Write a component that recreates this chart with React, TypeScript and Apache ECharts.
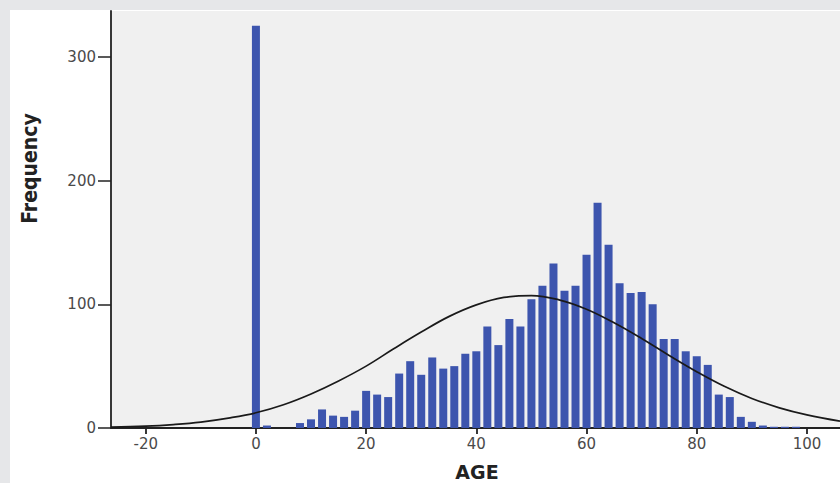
import React, { useEffect, useRef } from "react";
import * as echarts from "echarts";

// Histogram bins (centre of each 2-year bin) and counts
const binCenters = [0, 2, 4, 6, 8, 10, 12, 14, 16, 18, 20, 22, 24, 26, 28, 30, 32, 34, 36, 38, 40, 42, 44, 46, 48, 50, 52, 54, 56, 58, 60, 62, 64, 66, 68, 70, 72, 74, 76, 78, 80, 82, 84, 86, 88, 90, 92, 94, 96, 98];
const counts = [325, 2, 0, 0, 4, 7, 15, 10, 9, 14, 30, 27, 25, 44, 54, 43, 57, 48, 50, 60, 62, 82, 67, 88, 82, 104, 115, 133, 111, 115, 140, 182, 148, 117, 109, 110, 100, 72, 72, 62, 58, 51, 27, 25, 9, 5, 2, 1, 1, 1];

// Normal curve
const curveAges = [-26.3, -20, -15, -10, -5, 0, 5, 10, 15, 20, 25, 30, 35, 40, 45, 50, 55, 60, 65, 70, 75, 80, 85, 90, 95, 100, 106];
const curveValues = [0.7, 1.5, 2.8, 4.8, 8, 12.3, 18.8, 27.5, 38, 50, 64, 77.5, 90, 99.5, 105.5, 107, 103.6, 96, 85, 72.3, 58.6, 45.5, 33.7, 23.9, 16.3, 10.6, 5.5];

const xTicks = [-20, 0, 20, 40, 60, 80, 100];
const yTicks = [0, 100, 200, 300];

export default function App() {
  const ref = useRef<HTMLDivElement>(null);
  useEffect(() => {
    document.body.style.margin = "0";
    const chart = echarts.init(ref.current!, null, { renderer: "svg" });
    const axisColor = "#222";
    const labelColor = "#4a4a4a";
    chart.setOption({
      animation: false,
      grid: {
        left: 111,
        top: 11,
        right: 0,
        bottom: 55,
        show: true,
        backgroundColor: "#f0f0f0",
        borderWidth: 0,
      },
      xAxis: {
        type: "value",
        min: -26.3,
        max: 106,
        splitLine: { show: false },
        axisLine: { show: true, onZero: false, lineStyle: { color: axisColor, width: 1.8 } },
        axisTick: { show: true, length: 6, customValues: xTicks, lineStyle: { color: axisColor, width: 1.8 } },
        axisLabel: {
          customValues: xTicks,
          color: labelColor,
          fontFamily: "DejaVu Sans",
          fontSize: 15,
          margin: 8,
        },
      },
      yAxis: {
        type: "value",
        min: 0,
        max: 337,
        splitLine: { show: false },
        axisLine: { show: true, onZero: false, lineStyle: { color: axisColor, width: 1.8 } },
        axisTick: { show: true, length: 13, customValues: yTicks, lineStyle: { color: axisColor, width: 1.5 } },
        axisLabel: {
          customValues: yTicks,
          color: labelColor,
          fontFamily: "DejaVu Sans",
          fontSize: 15,
          margin: 15,
        },
      },
      graphic: [
        {
          type: "text",
          x: 30,
          y: 168.5,
          rotation: Math.PI / 2,
          style: {
            text: "Frequency",
            fill: "#222",
            font: "bold 21px 'Liberation Sans Narrow', 'DejaVu Sans Condensed', sans-serif",
            align: "center",
            verticalAlign: "middle",
          },
        },
        {
          type: "text",
          x: 477,
          y: 472,
          style: {
            text: "AGE",
            fill: "#222",
            font: "bold 19px 'DejaVu Sans', sans-serif",
            align: "center",
            verticalAlign: "middle",
          },
        },
      ],
      series: [
        {
          type: "bar",
          data: binCenters.map((a, i) => [a, counts[i]]),
          barWidth: 8,
          itemStyle: { color: "#3d55ae" },
        },
        {
          type: "line",
          data: curveAges.map((a, i) => [a, curveValues[i]]),
          smooth: 0.4,
          showSymbol: false,
          symbol: "none",
          lineStyle: { color: "#1a1a1a", width: 1.7 },
          z: 5,
        },
      ],
    });
    return () => chart.dispose();
  }, []);
  return (
    <div style={{ position: "absolute", left: 0, top: 0, width: 840, height: 483, background: "#e6e7e9" }}>
      <div style={{ position: "absolute", left: 10, top: 10, width: 830, height: 473, background: "#ffffff" }} />
      <div ref={ref} style={{ position: "absolute", left: 0, top: 0, width: 840, height: 483 }} />
    </div>
  );
}
